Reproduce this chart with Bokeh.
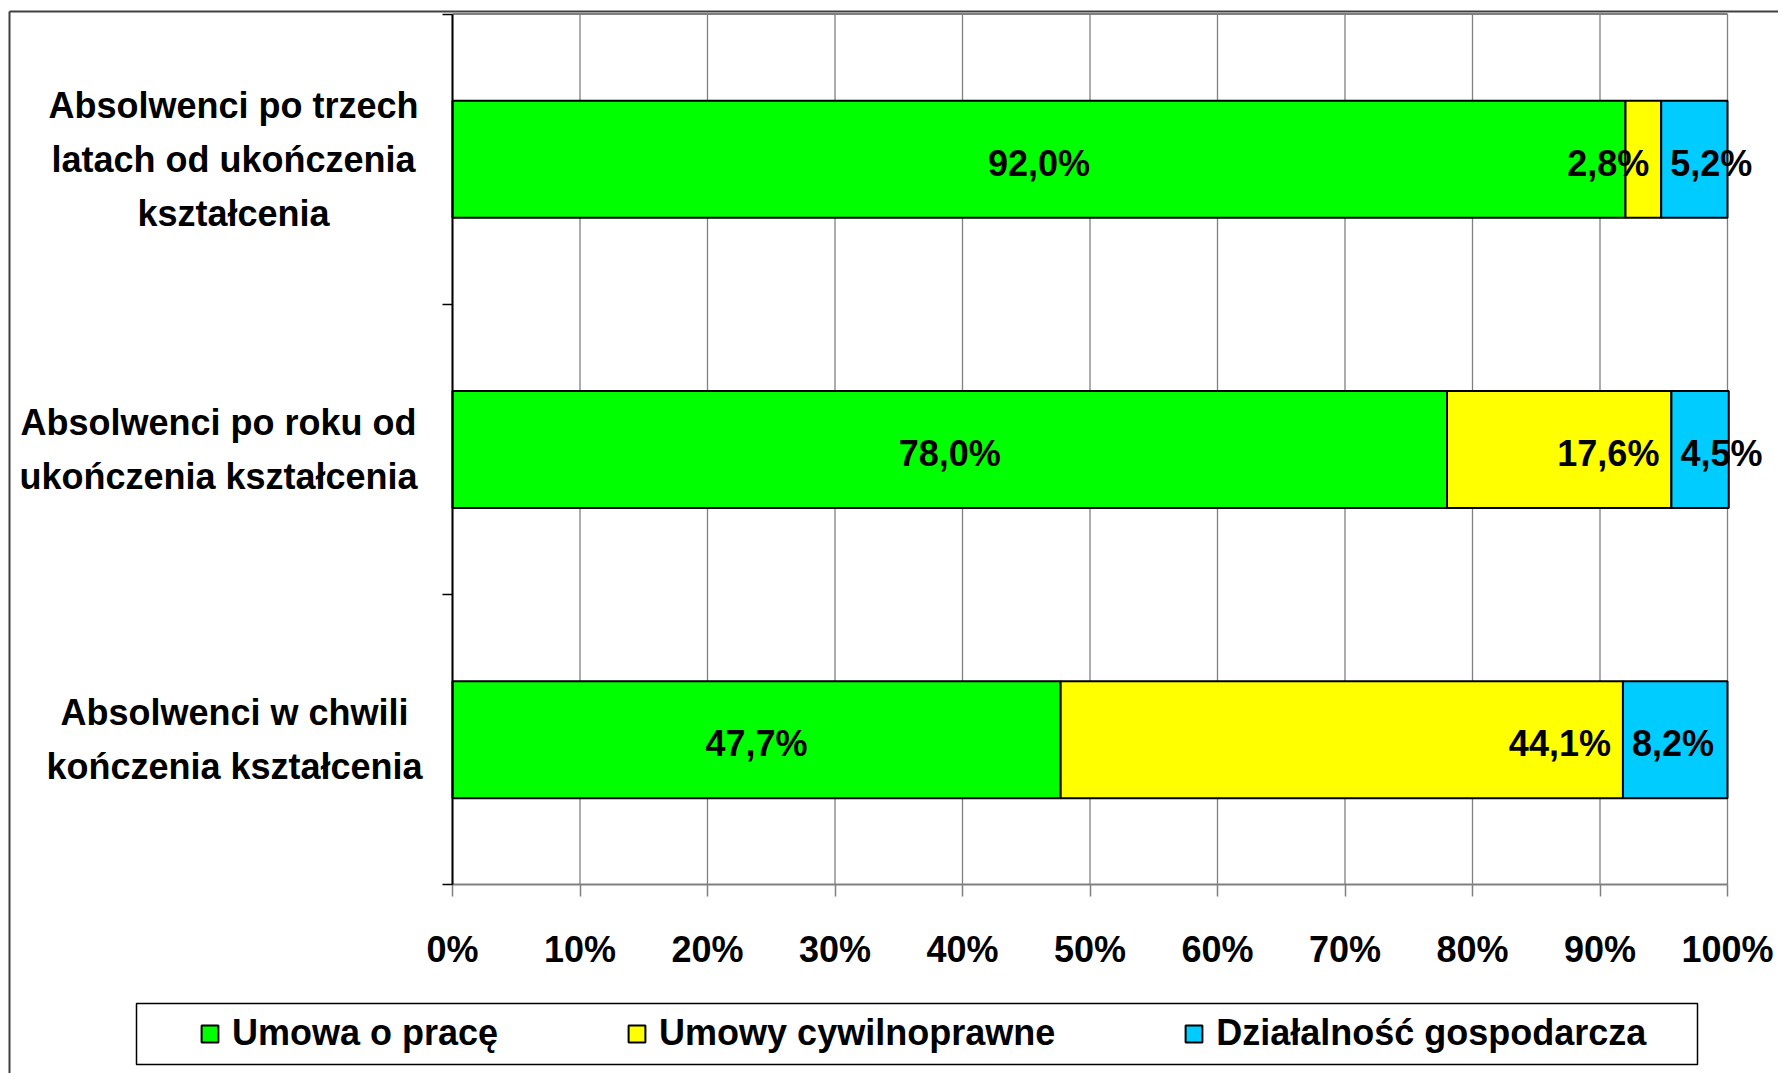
from bokeh.plotting import figure
from bokeh.models import (ColumnDataSource, Range1d, FixedTicker, BoxAnnotation,
                          LabelSet, Legend, LegendItem)
from bokeh.core.properties import value
from bokeh.embed import file_html
from bokeh.resources import INLINE

# ---------------- data ----------------
categories = [
    "Absolwenci w chwili kończenia kształcenia",
    "Absolwenci po roku od ukończenia kształcenia",
    "Absolwenci po trzech latach od ukończenia kształcenia",
]
category_lines = [
    ["Absolwenci w chwili", "kończenia kształcenia"],
    ["Absolwenci po roku od", "ukończenia kształcenia"],
    ["Absolwenci po trzech", "latach od ukończenia", "kształcenia"],
]
series_names = ["Umowa o pracę", "Umowy cywilnoprawne", "Działalność gospodarcza"]
umowa_o_prace = [47.7, 78.0, 92.0]
umowy_cywilnoprawne = [44.1, 17.6, 2.8]
dzialalnosc_gosp = [8.2, 4.5, 5.2]
x_ticks = [0, 10, 20, 30, 40, 50, 60, 70, 80, 90, 100]
x_tick_labels = ["0%", "10%", "20%", "30%", "40%", "50%", "60%", "70%", "80%", "90%", "100%"]

# ---------------- style / layout (page pixels) ----------------
FONT = "Liberation Sans"
FS = "36px"
colors = ["#00FF00", "#FFFF00", "#00CCFF"]
GRID = "#808080"
W, H = 1778, 1073          # canvas size
CX0, CY0 = 0, 0            # canvas origin on the page
AX_L, AX_R = 452, 1727     # page x of 0 % and 100 %
AX_T, AX_B = 13.6, 884.3   # page y of plot top and bottom
OUT_L, OUT_T = 9, 11       # outer chart-area border
LEG_L, LEG_R, LEG_T, LEG_B = 136, 1697, 1003, 1064   # legend frame
LEG_GLYPH_X, LEG_MID_Y = 199, 1034
LINE_PX = 54               # line pitch of category labels
LABEL_DY_PX = 4            # data labels sit slightly below bar centre
label_centres_px = [234, 218, 233]   # x centre of each category text block

n_cat = len(categories)
cat_pos = [i + 0.5 for i in range(n_cat)]       # band centres
band_edges = [i for i in range(n_cat + 1)]      # band boundaries

ppx = (AX_R - AX_L) / x_ticks[-1]
ppy = (AX_B - AX_T) / n_cat


def px_to_x(px):
    return (px - AX_L) / ppx


def px_to_y(py):
    return (AX_B - py) / ppy


def fmt(v):
    return ("%.1f" % v).replace(".", ",") + "%"


src = ColumnDataSource(dict(
    cat=cat_pos,
    g=umowa_o_prace,
    yl=umowy_cywilnoprawne,
    bl=dzialalnosc_gosp,
))

p = figure(width=W, height=H,
           x_range=Range1d(px_to_x(CX0), px_to_x(CX0 + W)),
           y_range=Range1d(px_to_y(CY0 + H), px_to_y(CY0)),
           output_backend="svg", toolbar_location=None,
           min_border_left=0, min_border_right=0, min_border_top=0, min_border_bottom=0)
p.background_fill_color = "white"
p.border_fill_color = "white"
p.outline_line_color = None
p.xgrid.visible = False
p.ygrid.visible = False

# outer border of the chart area (runs off the right and bottom edges)
p.segment(x0=[px_to_x(OUT_L), px_to_x(OUT_L)], x1=[px_to_x(OUT_L), px_to_x(CX0 + W + 5)],
          y0=[px_to_y(OUT_T), px_to_y(OUT_T)], y1=[px_to_y(CY0 + H + 5), px_to_y(OUT_T)],
          line_color="#404040", line_width=2)

# vertical grid lines and top edge of the plot area
p.segment(x0=x_ticks, x1=x_ticks, y0=[0] * len(x_ticks), y1=[n_cat] * len(x_ticks),
          line_color=GRID, line_width=1.3)
p.segment(x0=[x_ticks[0]], x1=[x_ticks[-1]], y0=[n_cat], y1=[n_cat],
          line_color=GRID, line_width=2)

renderers = p.hbar_stack(["g", "yl", "bl"], y="cat", height=0.403, source=src,
                         fill_color=colors, line_color="black", line_width=2)

# y axis at x = 0: ticks at band boundaries
p.yaxis.fixed_location = 0
p.yaxis.bounds = (0, n_cat)
p.yaxis.ticker = FixedTicker(ticks=band_edges, minor_ticks=[])
p.yaxis.major_label_text_color = None
p.yaxis.major_tick_line_color = "black"
p.yaxis.major_tick_line_width = 1.5
p.yaxis.major_tick_out = 10
p.yaxis.major_tick_in = 0
p.yaxis.minor_tick_line_color = None
p.yaxis.axis_line_color = "black"
p.yaxis.axis_line_width = 2

# x axis at y = 0
p.xaxis.fixed_location = 0
p.xaxis.bounds = (x_ticks[0], x_ticks[-1])
p.xaxis.ticker = FixedTicker(ticks=x_ticks, minor_ticks=[])
p.xaxis.major_label_overrides = {t: l for t, l in zip(x_ticks, x_tick_labels)}
p.xaxis.axis_line_color = GRID
p.xaxis.axis_line_width = 2
p.xaxis.major_tick_line_color = GRID
p.xaxis.major_tick_line_width = 1.5
p.xaxis.major_tick_out = 12
p.xaxis.major_tick_in = 0
p.xaxis.minor_tick_line_color = None
p.xaxis.major_label_standoff = 32
p.xaxis.major_label_text_font = FONT
p.xaxis.major_label_text_font_size = FS
p.xaxis.major_label_text_font_style = "bold"
p.xaxis.major_label_text_color = "black"

# category labels: every line centred on its block centre
line_txt, line_x, line_y = [], [], []
for i, lines in enumerate(category_lines):
    n = len(lines)
    for k, t in enumerate(lines):
        line_txt.append(t)
        line_x.append(px_to_x(label_centres_px[i]))
        line_y.append(cat_pos[i] + ((n - 1) / 2 - k) * LINE_PX / ppy)
cat_src = ColumnDataSource(dict(x=line_x, y=line_y, txt=line_txt))
p.add_layout(LabelSet(x="x", y="y", text="txt", source=cat_src,
                      text_align="center", text_baseline="middle",
                      text_font=value(FONT), text_font_size=FS, text_font_style="bold",
                      text_color="black"))

# data labels
cum2 = [a + b for a, b in zip(umowa_o_prace, umowy_cywilnoprawne)]
lab_y = [c - LABEL_DY_PX / ppy for c in cat_pos]
g_src = ColumnDataSource(dict(cat=lab_y, x=[v / 2 for v in umowa_o_prace],
                              txt=[fmt(v) for v in umowa_o_prace]))
y_src = ColumnDataSource(dict(cat=lab_y, x=cum2,
                              txt=[fmt(v) for v in umowy_cywilnoprawne]))
b_src = ColumnDataSource(dict(cat=lab_y, x=cum2,
                              txt=[fmt(v) for v in dzialalnosc_gosp]))
for s, align, off in [(g_src, "center", 0), (y_src, "right", -12), (b_src, "left", 9)]:
    p.add_layout(LabelSet(x="x", y="cat", text="txt", source=s, x_offset=off,
                          text_align=align, text_baseline="middle",
                          text_font=value(FONT), text_font_size=FS, text_font_style="bold",
                          text_color="black"))

# legend frame + legend
p.add_layout(BoxAnnotation(left=px_to_x(LEG_L), right=px_to_x(LEG_R),
                           top=px_to_y(LEG_T), bottom=px_to_y(LEG_B),
                           fill_color="white", fill_alpha=1,
                           line_color="black", line_alpha=1, line_width=1.5,
                           level="annotation"))
legend = Legend(items=[LegendItem(label=n, renderers=[r]) for n, r in zip(series_names, renderers)],
                orientation="horizontal",
                location=(LEG_GLYPH_X - CX0, H - (LEG_MID_Y - CY0) - 20), margin=0,
                glyph_width=21, glyph_height=21, label_standoff=12, spacing=128,
                padding=0, border_line_color=None,
                background_fill_alpha=0,
                label_text_font=FONT, label_text_font_size=FS, label_text_font_style="bold",
                label_text_color="black")
p.add_layout(legend)

open("out.html", "w").write(file_html(p, INLINE))
